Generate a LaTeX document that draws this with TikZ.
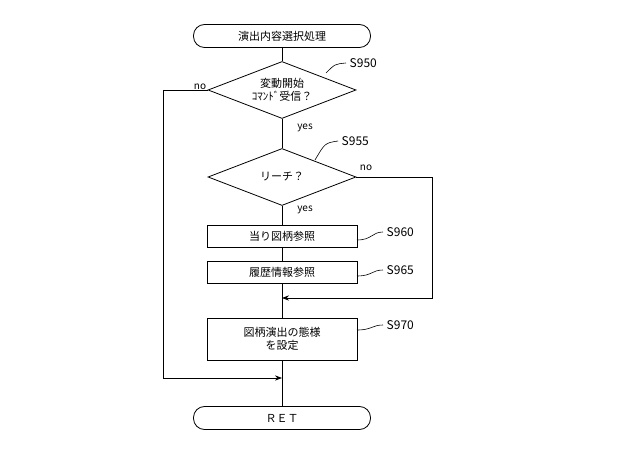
\documentclass[tikz,border=0pt]{standalone}
\usepackage{fontspec}
\setmainfont{Noto Sans CJK JP}
\usetikzlibrary{shapes.geometric,arrows.meta}
\begin{document}
\begin{tikzpicture}[x=1pt,y=-1pt,line width=0.8pt,
  term/.style={draw,rounded corners=11pt,minimum width=177pt,minimum height=23pt,font=\fontsize{11}{13}\selectfont},
  dec/.style={draw,diamond,aspect=2.6,minimum width=148pt,minimum height=57pt,inner sep=0pt,align=center,font=\fontsize{11}{13}\selectfont},
  proc/.style={draw,minimum width=150pt,minimum height=22pt,inner sep=1pt,align=center,font=\fontsize{11}{13}\selectfont},
  lab/.style={font=\fontsize{12}{14}\selectfont},
  small/.style={font=\fontsize{10}{12}\selectfont},
  arr/.style={-{Stealth[length=7pt]}}]
\useasboundingbox (0,0) rectangle (640,470);
\node[term] (start) at (282,36) {演出内容選択処理};
\node[dec] (d1) at (282,90) {変動開始\\ｺﾏﾝﾄﾞ受信？};
\node[dec] (d2) at (282,177) {リーチ？};
\node[proc] (p1) at (282,236) {当り図柄参照};
\node[proc] (p2) at (282,272) {履歴情報参照};
\node[proc,minimum height=42pt] (p3) at (282,339) {図柄演出の態様\\を設定};
\node[term] (end) at (282,418) {ＲＥＴ};
\coordinate (m1) at (282,298);
\coordinate (m2) at (282,378);
\draw (start) -- (d1.north);
\draw (d1.south) -- (d2.north);
\draw (d2.south) -- (p1.north);
\draw (p1) -- (p2);
\draw (p2.south) -- (p3.north);
\draw (p3.south) -- (end.north);
\draw[arr] (d1.west) -- (163,90) -- (163,378) -- (m2);
\draw[arr] (d2.east) -- (432,177) -- (432,298) -- (m1);
\node[small] (no1) at (200,87) {no};
\node[small] (yes1) at (305,128) {yes};
\node[small] (no2) at (366,168) {no};
\node[small] (yes2) at (305,210) {yes};
\node[lab,anchor=west] (s950) at (346,63) {S950};
\node[lab,anchor=west] (s955) at (338,141) {S955};
\node[lab,anchor=west] (s960) at (383,232) {S960};
\node[lab,anchor=west] (s965) at (383,270) {S965};
\node[lab,anchor=west] (s970) at (383,325) {S970};
\draw[line width=0.6pt] (326,73) .. controls (335,64) .. (s950.west);
\draw[line width=0.6pt] (315,160) .. controls (325,143) .. (s955.west);
\draw[line width=0.6pt] (357,240) .. controls (372,240) and (372,232) .. (s960.west);
\draw[line width=0.6pt] (357,276) .. controls (372,276) and (372,270) .. (s965.west);
\draw[line width=0.6pt] (357,330) .. controls (372,330) and (372,325) .. (s970.west);
\end{tikzpicture}
\end{document}
